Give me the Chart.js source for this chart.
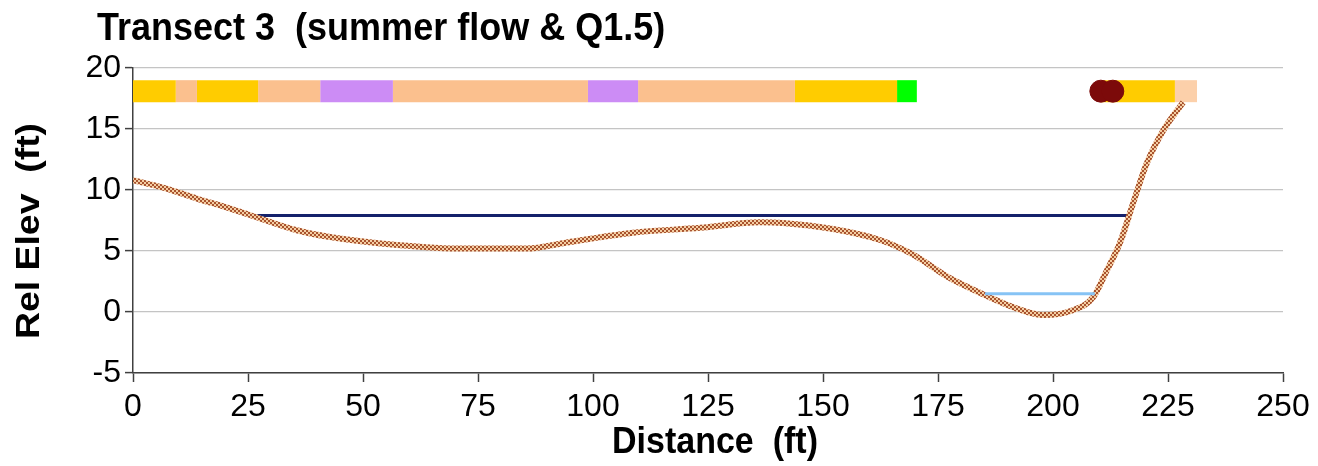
<!DOCTYPE html>
<html>
<head>
<meta charset="utf-8">
<script src="https://cdn.jsdelivr.net/npm/chart.js@4/dist/chart.umd.min.js"></script>
<style>
  html, body { margin: 0; padding: 0; background: #ffffff; }
  #wrap { width: 1318px; height: 466px; }
</style>
</head>
<body>
<div id="wrap"><canvas id="c" width="1318" height="466"></canvas></div>
<script>
// ---------- data ----------
const titleText = "Transect 3  (summer flow & Q1.5)";
const xTitle = "Distance  (ft)";
const yTitle = "Rel Elev  (ft)";

// ground profile (distance ft, relative elevation ft)
const profileX = [0, 6.5, 13.9, 21, 25.4, 35.6, 42.8, 57.4, 71.8, 85.6, 94.3, 108.7, 123.3, 136.3, 141.3, 152.2, 162.4, 169.6, 177, 184, 191.3, 198, 204.3, 208.7, 211.7, 214.6, 217.4, 220.4, 224, 228.3];
const profileY = [10.8, 10.2, 9.3, 8.5, 7.95, 6.7, 6.15, 5.5, 5.2, 5.2, 5.7, 6.5, 6.9, 7.35, 7.3, 6.8, 5.9, 4.7, 2.9, 1.6, 0.4, -0.25, 0.15, 1.2, 3.4, 5.7, 8.9, 12.2, 14.9, 17.2];

// water surfaces
const q15X = [25.2, 216.5];      // Q1.5 water surface extent
const q15Y = 7.9;
const summerX = [185.2, 209.1];  // summer flow water surface extent
const summerY = 1.5;

// habitat strip along top
const stripY = 18.1;
const stripStart = [0, 9.3, 13.9, 27.2, 40.7, 56.5, 98.9, 109.8, 143.9, 166.1, 210.5, 226.5];
const stripEnd   = [9.3, 13.9, 27.2, 40.7, 56.5, 98.9, 109.8, 143.9, 166.1, 170.4, 226.5, 231.3];
const stripKind  = ["yellow", "peach", "yellow", "peach", "purple", "peach", "purple", "peach", "yellow", "green", "yellow", "peachLight"];

// dark red markers
const markerX = [210.4, 213.0];
const markerY = [18.1, 18.1];

// axis ticks
const xMin = 0, xMax = 250, xStep = 25;
const yMin = -5, yMax = 20, yStep = 5;

// ---------- styles ----------
const kindColor = {
  yellow: "#ffcc00",
  peach: "#fbc08e",
  peachLight: "#fcd0aa",
  purple: "#cc8cf5",
  green: "#00ff00"
};

function checkerPattern() {
  const pc = document.createElement("canvas");
  pc.width = 4; pc.height = 4;
  const g = pc.getContext("2d");
  g.fillStyle = "#f4cfa4"; g.fillRect(0, 0, 4, 4);
  g.fillStyle = "#a9532e";
  g.fillRect(0, 0, 2, 2); g.fillRect(2, 2, 2, 2);
  return g.createPattern(pc, "repeat");
}

const datasets = [];

datasets.push({
  type: "line",
  label: "Ground",
  data: profileX.map((x, i) => ({ x: x, y: profileY[i] })),
  borderColor: checkerPattern(),
  borderWidth: 6,
  pointRadius: 0,
  cubicInterpolationMode: "monotone",
  fill: false,
  order: 2
});

datasets.push({
  type: "line",
  label: "Q1.5",
  data: q15X.map(x => ({ x: x, y: q15Y })),
  borderColor: "#14216b",
  borderWidth: 3,
  pointRadius: 0,
  order: 3
});

datasets.push({
  type: "line",
  label: "Summer flow",
  data: summerX.map(x => ({ x: x, y: summerY })),
  borderColor: "#86c3f5",
  borderWidth: 3,
  pointRadius: 0,
  order: 1
});

stripStart.forEach((s, i) => {
  datasets.push({
    type: "line",
    label: "strip" + i,
    data: [{ x: s, y: stripY }, { x: stripEnd[i], y: stripY }],
    borderColor: kindColor[stripKind[i]],
    borderWidth: 22,
    borderCapStyle: "butt",
    pointRadius: 0,
    order: 5
  });
});

datasets.push({
  type: "scatter",
  label: "markers",
  data: markerX.map((x, i) => ({ x: x, y: markerY[i] })),
  backgroundColor: "#7c0a0a",
  borderColor: "#7c0a0a",
  pointRadius: 11,
  pointHoverRadius: 11,
  order: 0
});

const FONT = '"Liberation Sans", Arial, sans-serif';

const textPlugin = {
  id: "texts",
  afterDraw(chart) {
    const ctx = chart.ctx;
    const a = chart.chartArea;
    ctx.fillStyle = "#000";

    // chart title (slightly tall glyphs like the reference)
    ctx.save();
    ctx.font = "bold 36px " + FONT;
    ctx.textAlign = "left";
    ctx.textBaseline = "alphabetic";
    ctx.translate(97, 40);
    ctx.scale(1, 1.06);
    ctx.fillText(titleText, 0, 0);
    ctx.restore();

    // x axis title
    ctx.save();
    ctx.font = "bold 34px " + FONT;
    ctx.textAlign = "center";
    ctx.textBaseline = "middle";
    ctx.translate((a.left + a.right) / 2 + 7, 443);
    ctx.scale(1, 1.06);
    ctx.fillText(xTitle, 0, 0);
    ctx.restore();

    // y axis title
    ctx.save();
    ctx.font = "bold 34px " + FONT;
    ctx.textAlign = "center";
    ctx.textBaseline = "middle";
    ctx.translate(30, 231);
    ctx.rotate(-Math.PI / 2);
    ctx.scale(1.1, 1);
    ctx.fillText(yTitle, 0, 0);
    ctx.restore();
  }
};

new Chart(document.getElementById("c"), {
  type: "line",
  data: { datasets: datasets },
  options: {
    responsive: false,
    animation: false,
    events: [],
    layout: { padding: { top: 68, right: 35, left: 0, bottom: 0 } },
    plugins: {
      legend: { display: false },
      tooltip: { enabled: false },
      title: { display: false }
    },
    scales: {
      x: {
        type: "linear",
        min: xMin, max: xMax,
        ticks: { stepSize: xStep, color: "#000", font: { family: FONT, size: 32 }, padding: 6, maxRotation: 0 },
        grid: { drawOnChartArea: false, drawTicks: true, tickLength: 9, tickColor: "#404040", tickWidth: 1.5 },
        border: { display: true, color: "#404040", width: 1.5 },
        afterFit(s) { s.height = 93; }
      },
      y: {
        type: "linear",
        min: yMin, max: yMax,
        ticks: { stepSize: yStep, color: "#000", font: { family: FONT, size: 32 }, padding: 4 },
        grid: { color: "#c4c4c4", lineWidth: 1.2, drawTicks: true, tickLength: 8, tickColor: "#404040", tickWidth: 1.5 },
        border: { display: true, color: "#404040", width: 1.5 },
        afterFit(s) { s.width = 133; }
      }
    }
  },
  plugins: [textPlugin]
});
</script>
</body>
</html>
